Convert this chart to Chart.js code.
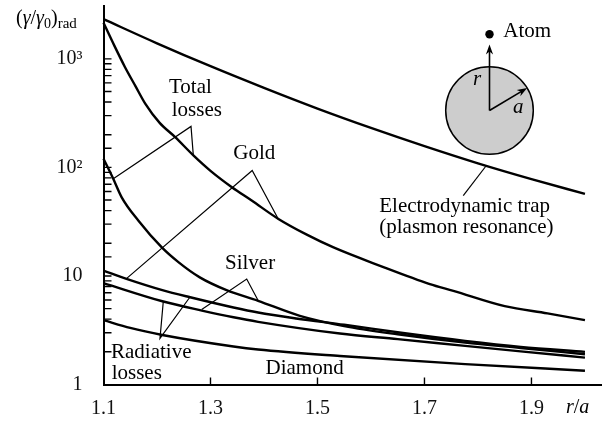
<!DOCTYPE html>
<html>
<head>
<meta charset="utf-8">
<script src="https://cdn.jsdelivr.net/npm/chart.js@4.4.1/dist/chart.umd.min.js"></script>
<style>
  html, body { margin: 0; padding: 0; background: #fff; }
  #wrap { width: 611px; height: 423px; }
</style>
</head>
<body>
<div id="wrap"><canvas id="c" width="611" height="423"></canvas></div>
<script>
// Axis ticks
const xTickValues = [1.1, 1.3, 1.5, 1.7, 1.9];
const yLabelValues = [1, 10, 100, 1000];
const yTickLabels = ['1', '10', '10²', '10³'];

// Electrodynamic trap (plasmon resonance)
const trapX = [1.1, 1.2, 1.3, 1.4, 1.5, 1.6, 1.7, 1.8, 1.9, 2.0];
const trapY = [2320, 1390, 855, 540, 348, 231, 157, 109, 78, 57];

// Gold, total losses
const goldTotalX = [1.1, 1.12, 1.14, 1.16, 1.178, 1.205, 1.234, 1.268, 1.3, 1.34, 1.377, 1.427, 1.48, 1.53, 1.617, 1.71, 1.754, 1.85, 1.93, 2.0];
const goldTotalY = [2150, 1330, 842, 558, 387, 257, 190, 129, 93, 65.7, 49.5, 33.5, 24, 18.3, 12.4, 8.42, 7.3, 5.28, 4.52, 3.92];

// Silver, total losses
const silverTotalX = [1.1, 1.118, 1.134, 1.165, 1.209, 1.24, 1.28, 1.33, 1.389, 1.467, 1.55, 1.65, 1.776, 1.88, 2.0];
const silverTotalY = [120, 79, 53, 32.4, 18.3, 13.4, 9.7, 7.4, 5.9, 4.29, 3.45, 2.9, 2.43, 2.17, 1.9];

// Gold, radiative losses
const goldRadX = [1.1, 1.143, 1.21, 1.262, 1.343, 1.389, 1.46, 1.55, 1.66, 1.776, 1.88, 2.0];
const goldRadY = [11.2, 9.4, 7.4, 6.36, 5.12, 4.6, 4.06, 3.55, 2.98, 2.52, 2.22, 2.0];

// Silver, radiative losses
const silverRadX = [1.1, 1.21, 1.284, 1.343, 1.389, 1.542, 1.65, 1.776, 1.88, 2.0];
const silverRadY = [8.6, 5.85, 4.8, 4.16, 3.78, 2.95, 2.62, 2.27, 2.02, 1.77];

// Diamond
const diamondX = [1.1, 1.15, 1.21, 1.343, 1.389, 1.542, 1.776, 2.0];
const diamondY = [3.92, 3.32, 2.86, 2.24, 2.10, 1.83, 1.54, 1.34];

const FONT = '"Liberation Serif", "Times New Roman", serif';
const INK = '#000';

const pts = (xs, ys) => xs.map((v, i) => ({ x: v, y: ys[i] }));
const series = (xs, ys) => ({
  data: pts(xs, ys),
  borderColor: INK,
  borderWidth: 2.4,
  pointRadius: 0,
  cubicInterpolationMode: 'monotone',
  fill: false,
  clip: false
});

// Callouts, placed in data units (x = r/a, y = rate)
const callouts = [
  { lines: ['Total', 'losses'], at: [[1.2224, 486], [1.2275, 295]] },
  { lines: ['Gold'], at: [[1.3426, 120]] },
  { lines: ['Silver'], at: [[1.3271, 11.58]] },
  { lines: ['Radiative', 'losses'], at: [[1.114, 1.738], [1.1153, 1.112]] },
  { lines: ['Diamond'], at: [[1.4028, 1.25]] },
  { lines: ['Electrodynamic trap', '(plasmon resonance)'], at: [[1.6155, 39.2], [1.6155, 24.8]] }
];
// Leader lines: polylines in data units
const leaders = [
  [[1.2679, 129], [1.2636, 238.6], [1.1183, 78.5]],
  [[1.4267, 33.5], [1.378, 93.6], [1.1434, 9.5]],
  [[1.3893, 5.9], [1.3677, 9.36], [1.2836, 4.9]],
  [[1.2118, 5.85], [1.2056, 2.66], [1.2617, 6.4]],
  [[1.7725, 55.0], [1.815, 103]]
];

function arrowHead(ctx, tx, ty, ang, len, half) {
  const c = Math.cos(ang), s = Math.sin(ang);
  const bx = tx - c * len, by = ty - s * len;
  const nx = tx - c * len * 0.7, ny = ty - s * len * 0.7;
  ctx.beginPath();
  ctx.moveTo(tx, ty);
  ctx.lineTo(bx - s * half, by + c * half);
  ctx.lineTo(nx, ny);
  ctx.lineTo(bx + s * half, by - c * half);
  ctx.closePath();
  ctx.fill();
}

const decor = {
  id: 'decor',
  afterDraw(chart) {
    const { ctx, chartArea: a, scales: { x, y } } = chart;
    const P = (xv, yv) => [x.getPixelForValue(xv), y.getPixelForValue(yv)];
    ctx.save();
    ctx.strokeStyle = INK;
    ctx.fillStyle = INK;

    // inward tick marks
    ctx.lineWidth = 1.4;
    ctx.beginPath();
    y.ticks.forEach(t => {
      if (t.value > 1 && t.value <= 1000) {
        const py = y.getPixelForValue(t.value);
        ctx.moveTo(a.left, py);
        ctx.lineTo(a.left + 8, py);
      }
    });
    x.ticks.forEach(t => {
      if (t.value > 1.1) {
        const px = x.getPixelForValue(t.value);
        ctx.moveTo(px, a.bottom);
        ctx.lineTo(px, a.bottom - 7);
      }
    });
    ctx.stroke();

    // leader lines
    ctx.lineWidth = 1.2;
    leaders.forEach(l => {
      ctx.beginPath();
      l.forEach((p, i) => {
        const [px, py] = P(p[0], p[1]);
        if (i === 0) ctx.moveTo(px, py); else ctx.lineTo(px, py);
      });
      ctx.stroke();
    });

    // callout text
    ctx.textBaseline = 'alphabetic';
    ctx.textAlign = 'left';
    ctx.font = '21px ' + FONT;
    callouts.forEach(c => {
      c.lines.forEach((s, i) => {
        const [px, py] = P(c.at[i][0], c.at[i][1]);
        ctx.fillText(s, px, py);
      });
    });

    // axis titles
    const run = (parts, x0) => {
      let cx = x0;
      parts.forEach(([s, font, dy]) => {
        ctx.font = font;
        ctx.fillText(s, cx, dy);
        cx += ctx.measureText(s).width;
      });
    };
    const base = 24;
    run([
      ['(', '20px ' + FONT, base],
      ['γ', 'italic 20px ' + FONT, base],
      ['/', '20px ' + FONT, base],
      ['γ', 'italic 20px ' + FONT, base],
      ['0', '14px ' + FONT, base + 4],
      [')', '20px ' + FONT, base],
      ['rad', '15px ' + FONT, base + 4]
    ], 16);
    const xb = a.bottom + 28.5;
    run([
      ['r', 'italic 20px ' + FONT, xb],
      ['/', '20px ' + FONT, xb],
      ['a', 'italic 20px ' + FONT, xb]
    ], 566);

    // inset sketch: nanoparticle of radius a, atom at distance r
    const cx = a.right - 111.5, cy = a.top + 105, R = 43.8;
    ctx.beginPath();
    ctx.arc(cx, cy, R, 0, Math.PI * 2);
    ctx.fillStyle = '#cdcdcd';
    ctx.fill();
    ctx.lineWidth = 1.5;
    ctx.stroke();
    ctx.fillStyle = INK;
    ctx.lineWidth = 1.6;
    ctx.beginPath();
    ctx.moveTo(cx, cy);
    ctx.lineTo(cx, cy - 60);
    ctx.stroke();
    arrowHead(ctx, cx, cy - 66, -Math.PI / 2, 10, 3.6);
    ctx.beginPath();
    ctx.arc(cx, cy - 76.2, 4.2, 0, Math.PI * 2);
    ctx.fill();
    const ang = Math.atan2(-22.2, 37.2);
    const ex = cx + Math.cos(ang) * R, ey = cy + Math.sin(ang) * R;
    ctx.beginPath();
    ctx.moveTo(cx, cy);
    ctx.lineTo(cx + Math.cos(ang) * (R - 6), cy + Math.sin(ang) * (R - 6));
    ctx.stroke();
    arrowHead(ctx, ex, ey, ang, 10, 3.6);
    ctx.font = 'italic 21px ' + FONT;
    ctx.fillText('r', cx - 16.5, cy - 25.5);
    ctx.fillText('a', cx + 23.5, cy + 2.2);
    ctx.font = '21px ' + FONT;
    ctx.fillText('Atom', cx + 13.8, cy - 73.8);
    ctx.restore();
  }
};

new Chart(document.getElementById('c'), {
  type: 'line',
  data: {
    datasets: [
      series(trapX, trapY),
      series(goldTotalX, goldTotalY),
      series(silverTotalX, silverTotalY),
      series(goldRadX, goldRadY),
      series(silverRadX, silverRadY),
      series(diamondX, diamondY)
    ]
  },
  options: {
    responsive: false,
    animation: false,
    events: [],
    layout: { padding: { top: 5.5, right: 10, bottom: 0, left: 0 } },
    plugins: { legend: { display: false }, tooltip: { enabled: false } },
    elements: { line: { borderCapStyle: 'butt', borderJoinStyle: 'round' } },
    scales: {
      x: {
        type: 'linear',
        min: 1.1,
        max: 2.03,
        afterBuildTicks: s => { s.ticks = xTickValues.map(v => ({ value: v })); },
        afterFit: s => { s.height = 38.5; s.paddingLeft = 0; s.paddingRight = 0; },
        grid: { display: false },
        border: { display: true, color: INK, width: 2 },
        ticks: {
          autoSkip: false,
          maxRotation: 0,
          padding: 4,
          color: '#111',
          font: { family: FONT, size: 20 },
          callback: v => v.toFixed(1)
        }
      },
      y: {
        type: 'logarithmic',
        min: 1,
        max: 3100,
        afterFit: s => { s.width = 103.5; s.paddingTop = 0; s.paddingBottom = 0; },
        grid: { display: false },
        border: { display: true, color: INK, width: 2 },
        ticks: {
          autoSkip: false,
          padding: 13,
          color: '#111',
          font: { family: FONT, size: 20 },
          callback: v => {
            const i = yLabelValues.findIndex(p => Math.abs(p - v) < 1e-9 * p);
            return i >= 0 ? yTickLabels[i] : '';
          }
        }
      }
    }
  },
  plugins: [decor]
});
</script>
</body>
</html>
